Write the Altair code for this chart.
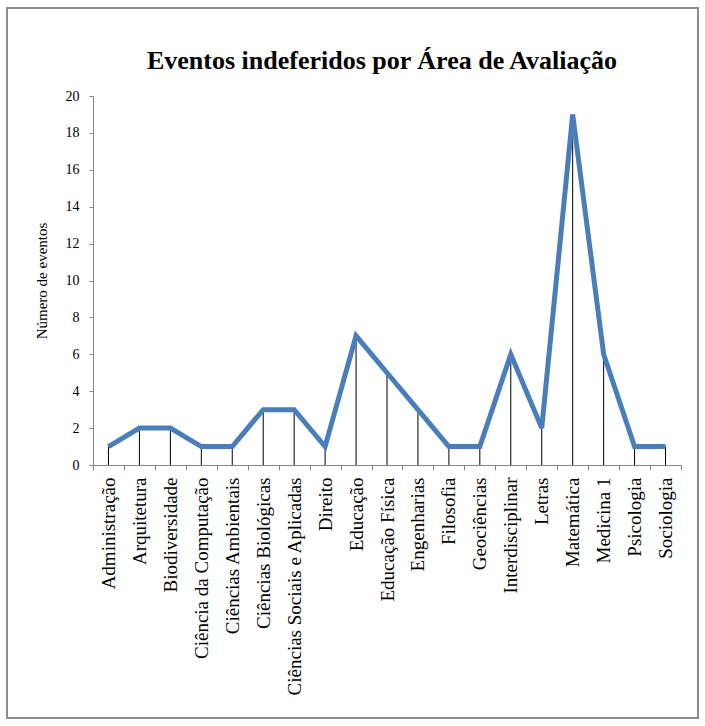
import altair as alt
import pandas as pd

categories = ["Administração", "Arquitetura", "Biodiversidade", "Ciência da Computação",
              "Ciências Ambientais", "Ciências Biológicas", "Ciências Sociais e Aplicadas",
              "Direito", "Educação", "Educação Física", "Engenharias", "Filosofia",
              "Geociências", "Interdisciplinar", "Letras", "Matemática", "Medicina 1",
              "Psicologia", "Sociologia"]
values = [1, 2, 2, 1, 1, 3, 3, 1, 7, 5, 3, 1, 1, 6, 2, 19, 6, 1, 1]

df = pd.DataFrame({"area": categories, "n": values})

FONT = "Liberation Serif"
AX = "#868686"

x = alt.X("area:N", sort=categories, title=None,
          scale=alt.Scale(type="band", paddingInner=0, paddingOuter=0),
          axis=alt.Axis(labelAngle=-90, labelAlign="right", labelBaseline="middle",
                        labelFontSize=19, labelFont=FONT, labelColor="black",
                        labelPadding=7, tickBand="extent", tickSize=5,
                        domainColor=AX, tickColor=AX, labelLimit=400))
y = alt.Y("n:Q", title="Número de eventos",
          scale=alt.Scale(domain=[0, 20], nice=False),
          axis=alt.Axis(values=list(range(0, 21, 2)), grid=False, labelFontSize=14,
                        labelFont=FONT, labelColor="black", titleFont=FONT,
                        titleFontSize=15, titleFontWeight="normal", titleColor="black",
                        titlePadding=16, tickSize=4, domainColor=AX, tickColor=AX,
                        labelPadding=10))

base = alt.Chart(df)
rules = base.mark_rule(color="black", strokeWidth=1).encode(x=x, y=y, y2=alt.datum(0))
line = base.mark_line(color="#4A7EBB", strokeWidth=5, strokeJoin="miter").encode(x=x, y=y)
border = alt.Chart(pd.DataFrame({"a": [0]})).mark_rect(
    fill=None, stroke="#8c8c8c", strokeWidth=2).encode(
    x=alt.value(-86), x2=alt.value(605), y=alt.value(-88), y2=alt.value(622))

chart = alt.layer(rules, line, border).properties(
    width=588, height=369,
    autosize=alt.AutoSizeParams(type="none"),
    padding={"left": 93, "top": 96, "right": 24, "bottom": 261},
    title=alt.TitleParams("Eventos indeferidos por Área de Avaliação", font=FONT,
                          fontSize=26, fontWeight="bold", color="black", offset=-67,
                          anchor="middle", dx=-5),
).configure(background="white").configure_view(stroke=None)

chart.save("out.html", embed_options={"renderer": "svg", "actions": False})
